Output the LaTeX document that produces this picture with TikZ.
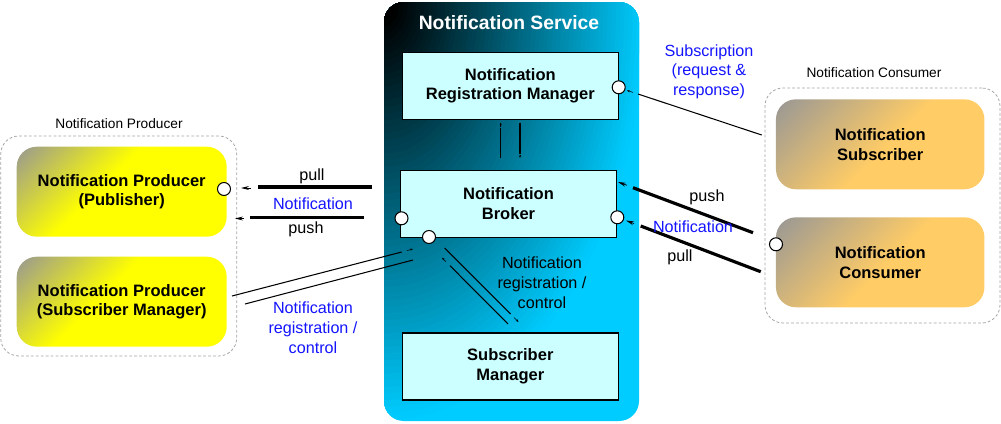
\documentclass[tikz,border=0pt]{standalone}
\usepackage{fontspec}
\setmainfont{Liberation Sans}
\usetikzlibrary{arrows.meta,calc}
\definecolor{svccyan}{RGB}{0,204,255}
\definecolor{boxcyan}{RGB}{204,255,255}
\definecolor{gradgray}{RGB}{150,150,150}
\definecolor{prodyellow}{RGB}{255,255,0}
\definecolor{consorange}{RGB}{255,204,102}
\definecolor{lblblue}{RGB}{20,20,255}
\definecolor{groupgray}{RGB}{165,165,165}
\pgfdeclareverticalshading{prodshade}{100bp}{color(0bp)=(prodyellow); color(56bp)=(prodyellow); color(86bp)=(gradgray); color(100bp)=(gradgray)}
\pgfdeclareverticalshading{consshade}{100bp}{color(0bp)=(consorange); color(48bp)=(consorange); color(86bp)=(gradgray); color(100bp)=(gradgray)}
\tikzset{
  boldtxt/.style={font=\fontsize{9.4}{11.3}\selectfont\bfseries, align=center, inner sep=0pt},
  svcbox/.style={boldtxt, draw=black, line width=0.6pt, fill=boxcyan, minimum width=4.32cm, minimum height=1.34cm},
  prodbox/.style={boldtxt, rounded corners=0.4cm, shade, shading=prodshade, shading angle=45, minimum width=4.2cm, minimum height=1.8cm},
  consbox/.style={boldtxt, rounded corners=0.4cm, shade, shading=consshade, shading angle=45, minimum width=4.17cm, minimum height=1.8cm},
  port/.style={circle, draw=black, fill=white, line width=0.6pt, minimum size=0.26cm, inner sep=0pt},
  groupframe/.style={draw=groupgray, dash pattern=on 1.6pt off 1.2pt, line width=0.45pt, rounded corners=0.36cm},
  grouplabel/.style={font=\fontsize{7.8}{9}\selectfont, inner sep=0pt},
  lbl/.style={font=\fontsize{9.2}{11.3}\selectfont, align=center, inner sep=0pt},
  bluelbl/.style={lbl, text=lblblue},
  thinline/.style={line width=0.6pt},
  thickline/.style={line width=1.8pt},
  bigtip/.style={line width=0.4pt, -{Stealth[length=4.5pt,width=2.2pt]}},
  smalltip/.style={line width=0.3pt, -{Stealth[length=1.6pt,width=1.2pt]}}
}
\begin{document}
\begin{tikzpicture}[x=0.02cm, y=-0.02cm]
\useasboundingbox (0,0) rectangle (1001,423);

% service container: elliptical gradient from the top-left corner (black -> cyan)
\fill[svccyan, rounded corners=0.4cm] (384,2) rectangle (639,421);
\begin{scope}
  \clip[rounded corners=0.4cm] (384,2) rectangle (639,421);
  \foreach \i in {60,59,...,0}{
    \pgfmathsetmacro\rx{5*(\i/60+0.045)}
    \pgfmathsetmacro\ry{8*(\i/60+0.045)}
    \pgfmathsetmacro\pct{max(0,(\i-0.5)/60*100)}
    \fill[svccyan!\pct!black] (384,2) ellipse [x radius=\rx cm, y radius=\ry cm];
  }
\end{scope}
\node[minimum width=5.1cm, minimum height=8.38cm, inner sep=0pt] (svc) at (511.5,211.5) {};
\node[font=\fontsize{11}{13}\selectfont\bfseries, text=white, inner sep=0pt] (svctitle) at (509,23) {Notification Service};

% groups
\node[groupframe, minimum width=4.72cm, minimum height=4.4cm, inner sep=0pt] (prodgrp) at (118.7,246) {};
\node[grouplabel] (prodgrplbl) at (119,124) {Notification Producer};
\node[groupframe, minimum width=4.7cm, minimum height=4.7cm, inner sep=0pt] (consgrp) at (882.5,205.5) {};
\node[grouplabel] (consgrplbl) at (874,73) {Notification Consumer};

% service boxes
\node[svcbox] (nrm) at (510.3,85.7) {Notification\\Registration Manager};
\node[svcbox] (broker) at (508.5,203.8) {Notification\\Broker};
\node[svcbox] (submgr) at (510.3,366.5) {Subscriber\\Manager};

% producer boxes
\node[prodbox] (pub) at (121.7,191.7) {Notification Producer\\(Publisher)};
\node[prodbox] (psm) at (121.7,301.7) {Notification Producer\\(Subscriber Manager)};

% consumer boxes
\node[consbox] (subscr) at (880.2,144.3) {Notification\\Subscriber};
\node[consbox] (cons) at (880.2,262.3) {Notification\\Consumer};

% connector end points
\coordinate (pullR) at (372,187);   \coordinate (pullL) at (258,187);
\coordinate (pullTs) at (251,188);  \coordinate (pullTe) at (241,188);
\coordinate (pushR) at (364,217.7); \coordinate (pushL) at (250,217.7);
\coordinate (pushTs) at (244,218.5); \coordinate (pushTe) at (235,218.5);

\coordinate (psmU1) at (232,296);   \coordinate (psmU2) at (401.7,252);
\coordinate (psmUTs) at (407,250.6); \coordinate (psmUTe) at (413,249);
\coordinate (psmL1) at (245,304);   \coordinate (psmL2) at (413,260);

\coordinate (bs1a) at (444.7,248);  \coordinate (bs1b) at (510.7,314);
\coordinate (bs1Ts) at (514,317.5); \coordinate (bs1Te) at (518.5,322);
\coordinate (bs2a) at (450,265.7);  \coordinate (bs2b) at (508,324);
\coordinate (bs2Ts) at (446,261.7); \coordinate (bs2Te) at (442,257.7);

\coordinate (nc1) at (638,94);      \coordinate (nc2) at (761.7,135);
\coordinate (ncTs) at (633,92.4);   \coordinate (ncTe) at (627,90.5);

\coordinate (rU1) at (633,187.7);   \coordinate (rU2) at (753,232.7);
\coordinate (rUTs) at (627,185.3);  \coordinate (rUTe) at (618,182);
\coordinate (rL1) at (640.7,226);   \coordinate (rL2) at (760.7,271.7);
\coordinate (rLTs) at (634,223.5);  \coordinate (rLTe) at (626,220.5);

\coordinate (vL1) at (500.7,128.3); \coordinate (vL2) at (500.7,158.3);
\coordinate (vLTs) at (500.7,127);  \coordinate (vLTe) at (500.7,122.5);
\coordinate (vR1) at (520,122.7);   \coordinate (vR2) at (520,154);
\coordinate (vRTs) at (520,154.5);  \coordinate (vRTe) at (520,158);

% connectors
\draw[thickline] (pullR) -- (pullL);
\draw[bigtip] (pullTs) -- (pullTe);
\draw[thickline] (pushR) -- (pushL);
\draw[bigtip] (pushTs) -- (pushTe);

\draw[thinline] (psmU1) -- (psmU2);
\draw[smalltip] (psmUTs) -- (psmUTe);
\draw[thinline] (psmL1) -- (psmL2);

\draw[thinline] (bs1a) -- (bs1b);
\draw[smalltip] (bs1Ts) -- (bs1Te);
\draw[thinline] (bs2a) -- (bs2b);
\draw[smalltip] (bs2Ts) -- (bs2Te);

\draw[thinline] (nc1) -- (nc2);
\draw[smalltip] (ncTs) -- (ncTe);

\draw[thickline] (rU1) -- (rU2);
\draw[bigtip] (rUTs) -- (rUTe);
\draw[thickline] (rL1) -- (rL2);
\draw[bigtip] (rLTs) -- (rLTe);

\draw[thinline] (vL1) -- (vL2);
\draw[smalltip] (vLTs) -- (vLTe);
\draw[thinline] (vR1) -- (vR2);
\draw[smalltip] (vRTs) -- (vRTe);

% ports
\node[port] (pNRM) at (618.7,87.3) {};
\node[port] (pBL) at (401.5,218.3) {};
\node[port] (pBB) at (429,237) {};
\node[port] (pBR) at (617.3,217.3) {};
\node[port] (pPub) at (224,189) {};
\node[port] (pCons) at (776,244.3) {};

% labels
\node[lbl] (lpull) at (312,176) {pull};
\node[bluelbl] (lnotif1) at (313,203.3) {Notification};
\node[lbl] (lpush) at (306,229) {push};
\node[bluelbl] (lreg1) at (313,328) {Notification\\registration /\\control};
\node[lbl] (lreg2) at (542,283) {Notification\\registration /\\control};
\node[bluelbl] (lsubscr) at (709,71.7) {Subscription\\(request \&\\response)};
\node[lbl] (lpush2) at (707,197.7) {push};
\node[bluelbl] (lnotif2) at (693,226.7) {Notification};
\node[lbl] (lpull2) at (680,257) {pull};
\end{tikzpicture}
\end{document}
